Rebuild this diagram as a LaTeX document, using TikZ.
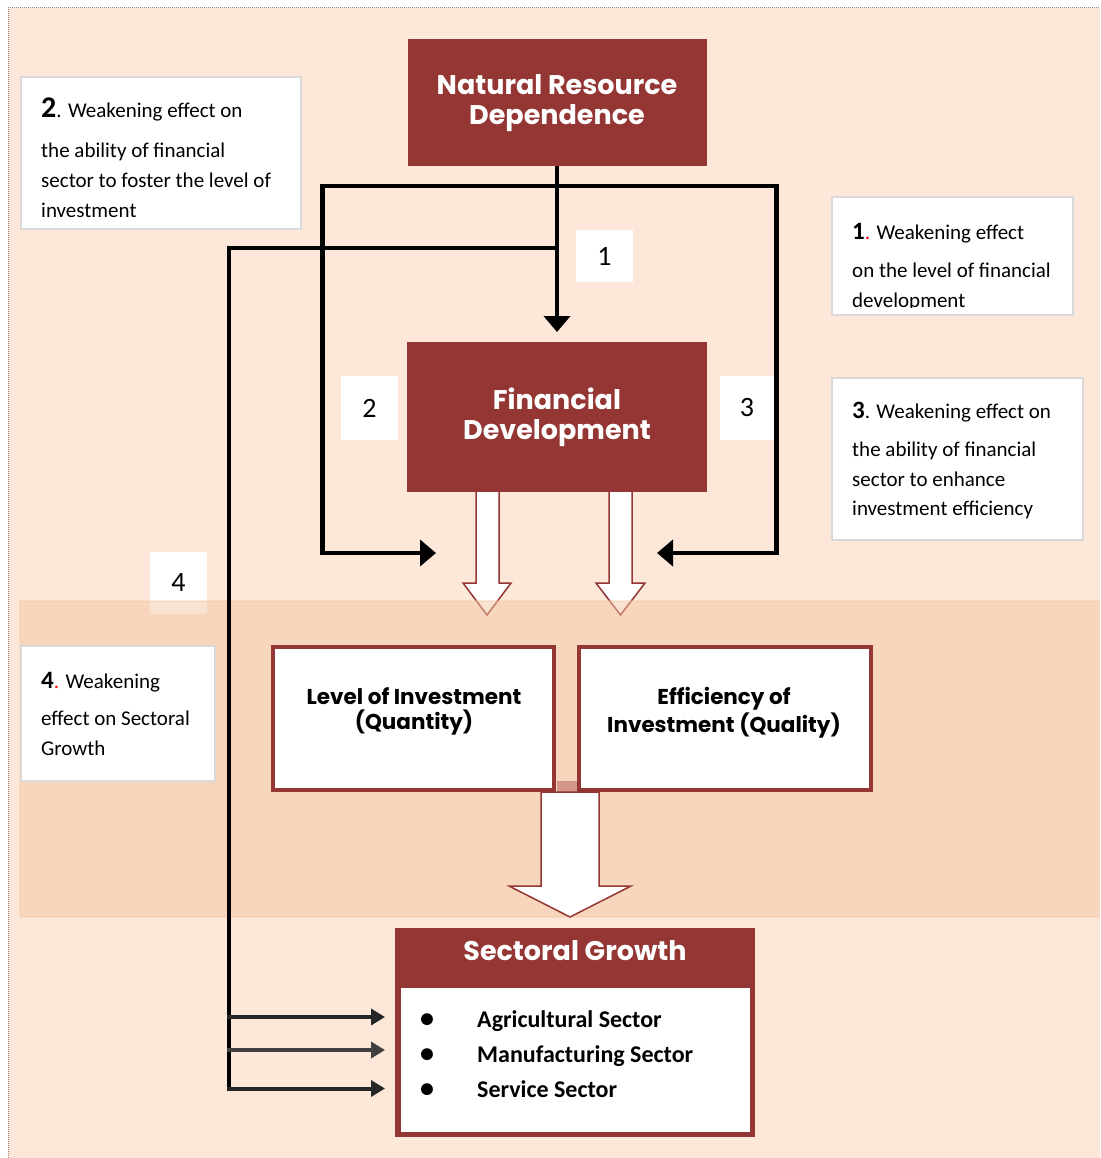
\documentclass[tikz,border=0pt]{standalone}
\usepackage{fontspec}
\setmainfont{Carlito}
\newfontfamily\headfont{Poppins}
\usetikzlibrary{arrows.meta}
\definecolor{peach}{HTML}{FCE7D9}
\definecolor{bandc}{HTML}{F5C7A3}
\definecolor{dred}{HTML}{943634}
\definecolor{boxgray}{HTML}{D9D9D9}
\definecolor{salmon}{HTML}{D4968A}
\definecolor{arrdark}{HTML}{262626}
\definecolor{arrmid}{HTML}{404040}
\definecolor{dotc}{HTML}{8C8C8C}
\begin{document}
\begin{tikzpicture}[x=1pt,y=-1pt,
  tbox/.style={draw=boxgray,line width=2pt,fill=white,inner sep=0pt,outer sep=0pt},
  txt/.style={anchor=north west,inner sep=0pt,align=left,font=\fontsize{21}{30}\selectfont},
  lbl/.style={fill=white,inner sep=0pt,outer sep=0pt,font=\fontsize{28}{30}\selectfont},
  redbox/.style={fill=dred,inner sep=0pt,outer sep=0pt,text=white,align=center,font=\headfont\bfseries\fontsize{27}{30}\selectfont},
  midbox/.style={draw=dred,line width=4pt,fill=white,inner sep=0pt,outer sep=0pt},
  midtxt/.style={align=center,inner sep=0pt,font=\headfont\bfseries\fontsize{21.5}{25}\selectfont},
  hollow/.style={draw=dred,line width=1.5pt,fill=white,line join=miter},
  blk/.style={line width=4.5pt,black,line join=miter},
  blkhead/.style={-{Triangle[length=16pt,width=26pt]}},
  grayarr/.style={line width=4pt,line cap=rect,-{Triangle[length=14pt,width=16pt]}}
]
\useasboundingbox (0,0) rectangle (1100,1158);
% background
\fill[white] (0,0) rectangle (1100,1158);
\fill[peach] (8,8) rectangle (1100,1158);
\draw[dotc,densely dotted,line width=1pt] (8,1158) -- (8,8) -- (1100,8);

% label 4 (partly under the band)
\node[lbl,minimum width=57pt,minimum height=62pt] (l4) at (178.5,583) {4};

% hollow arrows from Financial Development
\path[hollow] (476,490) -- (476,583) -- (463,583) -- (487,615) -- (511,583) -- (499,583) -- (499,490) -- cycle;
\path[hollow] (609,490) -- (609,583) -- (596,583) -- (620.5,615) -- (645,583) -- (632,583) -- (632,490) -- cycle;

% band
\fill[bandc,opacity=0.5] (20,601) rectangle (1100,917);
\draw[bandc,opacity=0.35,line width=1.5pt] (1100,601) -- (20,601) -- (20,917) -- (1100,917);

% main red boxes
\node[redbox,minimum width=299pt,minimum height=127pt] (nrd) at (557,103) {Natural Resource\\Dependence};
\node[redbox,minimum width=300pt,minimum height=150pt] (fd) at (557,417) {Financial\\Development};

% text boxes
\node[tbox,minimum width=280pt,minimum height=152pt] (t2) at (161,153) {};
\node[txt] (t2txt) at (41,97) {\rule{0pt}{20pt}{\bfseries\fontsize{30}{30}\selectfont 2}. Weakening effect on\\[10pt]the ability of financial\\sector to foster the level of\\investment};

\node[tbox,minimum width=241pt,minimum height=118pt] (t1) at (952.5,256) {};
\begin{scope}
\clip (832,197) rectangle (1073,307.5);
\node[txt] (t1txt) at (852,219) {\rule{0pt}{20pt}{\bfseries\fontsize{25}{30}\selectfont 1}\textcolor{red}{.} Weakening effect\\[8pt]on the level of financial\\development};
\end{scope}

\node[tbox,minimum width=251pt,minimum height=162pt] (t3) at (957.5,459) {};
\node[txt,font=\fontsize{21}{29.5}\selectfont] (t3txt) at (852,398) {\rule{0pt}{20pt}{\bfseries\fontsize{25}{30}\selectfont 3}. Weakening effect on\\[9pt]the ability of financial\\sector to enhance\\investment efficiency};

\node[tbox,minimum width=194pt,minimum height=135pt] (t4) at (118,713.5) {};
\node[txt] (t4txt) at (41,668) {\rule{0pt}{20pt}{\bfseries\fontsize{25}{30}\selectfont 4}\textcolor{red}{.} Weakening\\[7pt]effect on Sectoral\\Growth};

% number labels
\node[lbl,minimum width=57pt,minimum height=52pt] (l1) at (604.5,256) {1};
\node[lbl,minimum width=57pt,minimum height=64pt] (l2) at (369.5,408) {2};
\node[lbl,minimum width=54pt,minimum height=64pt] (l3) at (747,408) {3};

% big hollow arrow to sectoral growth
\fill[salmon] (557,781) rectangle (577,792);
\path[hollow] (541,792) -- (541,886) -- (509,886) -- (570,917) -- (631,886) -- (599,886) -- (599,792) -- cycle;

% middle boxes
\node[midbox,minimum width=281pt,minimum height=143pt] (lev) at (413.5,718.5) {};
\node[midtxt] (levtxt) at (414,711) {Level of Investment\\(Quantity)};
\node[midbox,minimum width=292pt,minimum height=143pt] (eff) at (725,718.5) {};
\node[midtxt,font=\headfont\bfseries\fontsize{21.5}{28}\selectfont] (efftxt) at (724,713) {Efficiency of\\Investment (Quality)};

% sectoral growth
\node[fill=dred,inner sep=0pt,outer sep=0pt,minimum width=360pt,minimum height=209pt] (sg) at (575,1032.5) {};
\fill[white] (400.5,988) rectangle (749.5,1131.5);
\node[text=white,font=\headfont\bfseries\fontsize{27}{30}\selectfont,inner sep=0pt] (sgtitle) at (575,951) {Sectoral Growth};
\node[txt,font=\bfseries\fontsize{24}{35}\selectfont] (sglist) at (420,1005) {\rule{0pt}{22pt}\makebox[57pt][l]{\fontsize{28}{35}\selectfont\textbullet}Agricultural Sector\\\makebox[57pt][l]{\fontsize{28}{35}\selectfont\textbullet}Manufacturing Sector\\\makebox[57pt][l]{\fontsize{28}{35}\selectfont\textbullet}Service Sector};

% black connectors
\coordinate (busL) at (322.5,186);
\coordinate (busR) at (776.5,186);
\coordinate (tipL) at (436,553);
\coordinate (tipR) at (657,553);
\coordinate (j4) at (556,248);
\coordinate (c4) at (229,248);
\coordinate (b1) at (229,1017);
\coordinate (b2) at (229,1050);
\coordinate (b3) at (229,1088.5);

\draw[blk,{Triangle[length=16pt,width=26pt]}-{Triangle[length=16pt,width=26pt]}] (tipL) -| (busL) -- (busR) |- (tipR);
\draw[blk,blkhead,shorten >=10pt] (nrd.south) -- (fd.north);
\draw[blk,line cap=rect] (j4) -- (c4) -- (b3);
\draw[grayarr,arrdark,shorten >=10pt] (b1) -- (sg.west |- b1);
\draw[grayarr,arrmid,shorten >=10pt] (b2) -- (sg.west |- b2);
\draw[grayarr,arrdark,shorten >=10pt] (b3) -- (sg.west |- b3);
\end{tikzpicture}
\end{document}
